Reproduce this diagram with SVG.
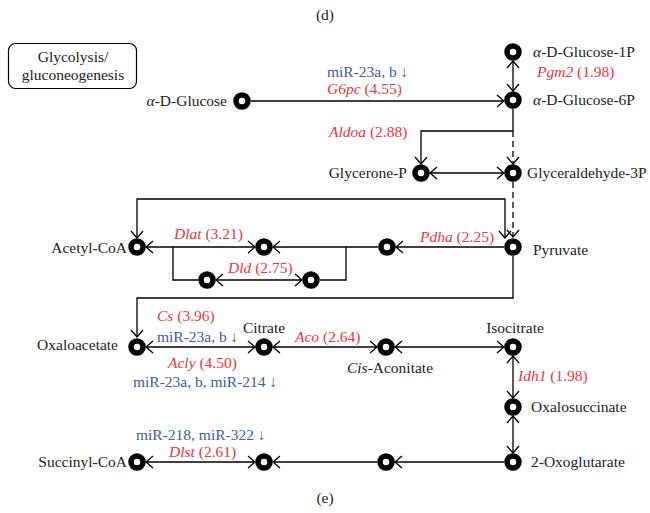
<svg xmlns="http://www.w3.org/2000/svg" width="650" height="513" viewBox="0 0 650 513" font-family="'Liberation Serif', 'DejaVu Serif', serif">
<style>
text{font-family:"Liberation Serif","DejaVu Serif",serif;font-size:15.5px;fill:#222}
.r{fill:#e8383d}
.b{fill:#3f5ba9}
.e{text-anchor:end}
.m{text-anchor:middle}
.n{fill:#fff;stroke:#000;stroke-width:5.5}
.c{fill:none;stroke:#000;stroke-width:1.3}
.d{stroke-dasharray:6 4}
</style>
<defs>
<marker id="a" viewBox="-9 -8 11 16" refX="0" refY="0" markerWidth="11" markerHeight="16" markerUnits="userSpaceOnUse" orient="auto-start-reverse">
<path d="M-7,-6 L0,0 L-7,6" fill="none" stroke="#000" stroke-width="1.3"/>
</marker>
</defs>
<text x="325" y="20" class="m">(d)</text>
<text x="325" y="503" class="m">(e)</text>
<g id="legend">
<rect x="8.5" y="43.5" width="128" height="45" rx="7" fill="#fff" stroke="#000" stroke-width="1.2"/>
<text x="73" y="62" class="m">Glycolysis/</text>
<text x="73" y="80" class="m">gluconeogenesis</text>
</g>
<g id="connectors">
<path class="c" d="M251,101 H504" marker-end="url(#a)"/>
<path class="c" d="M513,61 V91" marker-start="url(#a)" marker-end="url(#a)"/>
<path class="c" d="M513,109 V131 H421 V164" marker-end="url(#a)"/>
<path class="c d" d="M513,131 V164" marker-end="url(#a)"/>
<path class="c" d="M430,173 H504" marker-start="url(#a)" marker-end="url(#a)"/>
<path class="c d" d="M513,182 V237" marker-end="url(#a)"/>
<path class="c" d="M137,238 V199 H505 V238" marker-start="url(#a)" marker-end="url(#a)"/>
<path class="c" d="M504,247 H396" marker-end="url(#a)"/>
<path class="c" d="M378,247 H273" marker-end="url(#a)"/>
<path class="c" d="M146,247 H255" marker-start="url(#a)" marker-end="url(#a)"/>
<path class="c" d="M173,247 V280 H198"/>
<path class="c" d="M216,280 H302" marker-start="url(#a)" marker-end="url(#a)"/>
<path class="c" d="M320,280 H346 V247"/>
<path class="c" d="M513,256 V298 H137 V337" marker-end="url(#a)"/>
<path class="c" d="M146,347 H255" marker-start="url(#a)" marker-end="url(#a)"/>
<path class="c" d="M273,347 H377" marker-start="url(#a)" marker-end="url(#a)"/>
<path class="c" d="M395,347 H504" marker-start="url(#a)" marker-end="url(#a)"/>
<path class="c" d="M513,356 V398" marker-start="url(#a)" marker-end="url(#a)"/>
<path class="c" d="M513,416 V453" marker-start="url(#a)" marker-end="url(#a)"/>
<path class="c" d="M504,462 H395" marker-end="url(#a)"/>
<path class="c" d="M377,462 H273" marker-end="url(#a)"/>
<path class="c" d="M146,462 H255" marker-start="url(#a)" marker-end="url(#a)"/>
</g>
<g id="labels">
<text x="327" y="77" class="b">miR-23a, b ↓</text>
<text x="327" y="94" class="r"><tspan font-style="italic">G6pc</tspan> (4.55)</text>
<text x="537" y="77" class="r"><tspan font-style="italic">Pgm2</tspan> (1.98)</text>
<text x="329" y="137" class="r"><tspan font-style="italic">Aldoa</tspan> (2.88)</text>
<text x="420" y="242" class="r"><tspan font-style="italic">Pdha</tspan> (2.25)</text>
<text x="174" y="239" class="r"><tspan font-style="italic">Dlat</tspan> (3.21)</text>
<text x="228" y="273" class="r"><tspan font-style="italic">Dld</tspan> (2.75)</text>
<text x="157" y="321" class="r"><tspan font-style="italic">Cs</tspan> (3.96)</text>
<text x="157" y="342" class="b">miR-23a, b ↓</text>
<text x="168" y="368" class="r"><tspan font-style="italic">Acly</tspan> (4.50)</text>
<text x="133" y="387" class="b">miR-23a, b, miR-214 ↓</text>
<text x="295" y="342" class="r"><tspan font-style="italic">Aco</tspan> (2.64)</text>
<text x="518" y="381" class="r"><tspan font-style="italic">Idh1</tspan> (1.98)</text>
<text x="136" y="440" class="b">miR-218, miR-322 ↓</text>
<text x="169" y="457" class="r"><tspan font-style="italic">Dlst</tspan> (2.61)</text>
</g>
<g id="n-glucose"><circle class="n" cx="242" cy="101" r="6"/><text x="227" y="106" class="e"><tspan font-style="italic">α</tspan>-D-Glucose</text></g>
<g id="n-g1p"><circle class="n" cx="513" cy="52" r="6"/><text x="533" y="57"><tspan font-style="italic">α</tspan>-D-Glucose-1P</text></g>
<g id="n-g6p"><circle class="n" cx="513" cy="100" r="6"/><text x="533" y="105"><tspan font-style="italic">α</tspan>-D-Glucose-6P</text></g>
<g id="n-glycerone"><circle class="n" cx="421" cy="173" r="6"/><text x="407" y="178" class="e">Glycerone-P</text></g>
<g id="n-g3p"><circle class="n" cx="513" cy="173" r="6"/><text x="527" y="178">Glyceraldehyde-3P</text></g>
<g id="n-pyruvate"><circle class="n" cx="513" cy="247" r="6"/><text x="533" y="255">Pyruvate</text></g>
<g id="n-pdha"><circle class="n" cx="387" cy="247" r="6"/></g>
<g id="n-dlat"><circle class="n" cx="264" cy="247" r="6"/></g>
<g id="n-acetylcoa"><circle class="n" cx="137" cy="247" r="6"/><text x="127" y="253" class="e">Acetyl-CoA</text></g>
<g id="n-dld1"><circle class="n" cx="207" cy="280" r="6"/></g>
<g id="n-dld2"><circle class="n" cx="311" cy="280" r="6"/></g>
<g id="n-oxaloacetate"><circle class="n" cx="137" cy="347" r="6"/><text x="118" y="350" class="e">Oxaloacetate</text></g>
<g id="n-citrate"><circle class="n" cx="264" cy="347" r="6"/><text x="264" y="333" class="m">Citrate</text></g>
<g id="n-cisaconitate"><circle class="n" cx="386" cy="347" r="6"/><text x="390" y="373" class="m"><tspan font-style="italic">Cis</tspan>-Aconitate</text></g>
<g id="n-isocitrate"><circle class="n" cx="513" cy="347" r="6"/><text x="515" y="333" class="m">Isocitrate</text></g>
<g id="n-oxalosuccinate"><circle class="n" cx="513" cy="407" r="6"/><text x="531" y="412">Oxalosuccinate</text></g>
<g id="n-oxoglutarate"><circle class="n" cx="513" cy="462" r="6"/><text x="531" y="467">2-Oxoglutarate</text></g>
<g id="n-mid"><circle class="n" cx="386" cy="462" r="6"/></g>
<g id="n-dlst"><circle class="n" cx="264" cy="462" r="6"/></g>
<g id="n-succinylcoa"><circle class="n" cx="137" cy="462" r="6"/><text x="127" y="467" class="e">Succinyl-CoA</text></g>
</svg>
